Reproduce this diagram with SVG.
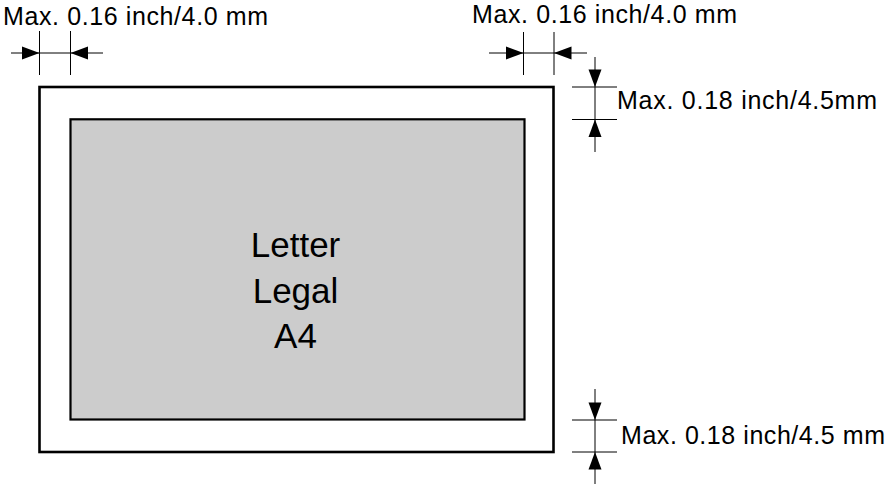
<svg xmlns="http://www.w3.org/2000/svg" width="887" height="484" viewBox="0 0 887 484">
<style>
.lbl{font-family:"Liberation Sans",Arial,Helvetica,sans-serif;font-size:25px;fill:#000}
.big{font-family:"Liberation Sans",Arial,Helvetica,sans-serif;font-size:35px;fill:#000;text-anchor:middle}
.dim{stroke:#000;stroke-width:1;fill:none}
.ah{fill:#000;stroke:none}
</style>
<rect width="887" height="484" fill="#fff"/>
<g id="paper">
<rect x="39.5" y="87" width="514" height="365" fill="#fff" stroke="#000" stroke-width="2.6"/>
</g>
<g id="print-area">
<rect x="70.5" y="119.3" width="454" height="300.2" fill="#cccccc" stroke="#000" stroke-width="2.2"/>
<text class="big" x="295.5" y="257">Letter</text>
<text class="big" x="295.5" y="303">Legal</text>
<text class="big" x="295.5" y="348">A4</text>
</g>
<g id="connectors">
<!-- top left -->
<line class="dim" x1="39.5" y1="31" x2="39.5" y2="75"/>
<line class="dim" x1="70.5" y1="31" x2="70.5" y2="75"/>
<line class="dim" x1="11" y1="53" x2="103" y2="53"/>
<polygon class="ah" points="22,46.5 39.5,53 22,59.5"/>
<polygon class="ah" points="88,46.5 70.5,53 88,59.5"/>
<!-- top right -->
<line class="dim" x1="523.5" y1="32" x2="523.5" y2="75"/>
<line class="dim" x1="554" y1="32" x2="554" y2="75"/>
<line class="dim" x1="489" y1="53" x2="587" y2="53"/>
<polygon class="ah" points="506,46.5 523.5,53 506,59.5"/>
<polygon class="ah" points="571.5,46.5 554,53 571.5,59.5"/>
<!-- right upper -->
<line class="dim" x1="572" y1="87" x2="617" y2="87"/>
<line class="dim" x1="572" y1="119.5" x2="617" y2="119.5"/>
<line class="dim" x1="595" y1="57" x2="595" y2="152"/>
<polygon class="ah" points="588.5,69.5 595,87 601.5,69.5"/>
<polygon class="ah" points="588.5,137 595,119.5 601.5,137"/>
<!-- right lower -->
<line class="dim" x1="572" y1="420" x2="617" y2="420"/>
<line class="dim" x1="572" y1="452" x2="617" y2="452"/>
<line class="dim" x1="595" y1="389" x2="595" y2="484"/>
<polygon class="ah" points="588.5,402.5 595,420 601.5,402.5"/>
<polygon class="ah" points="588.5,469.5 595,452 601.5,469.5"/>
</g>
<g id="labels">
<text class="lbl" x="3" y="25" textLength="265" lengthAdjust="spacing">Max. 0.16 inch/4.0 mm</text>
<text class="lbl" x="472" y="23" textLength="265" lengthAdjust="spacing">Max. 0.16 inch/4.0 mm</text>
<text class="lbl" x="617" y="109" textLength="260" lengthAdjust="spacing">Max. 0.18 inch/4.5mm</text>
<text class="lbl" x="621" y="444" textLength="264" lengthAdjust="spacing">Max. 0.18 inch/4.5 mm</text>
</g>
</svg>
